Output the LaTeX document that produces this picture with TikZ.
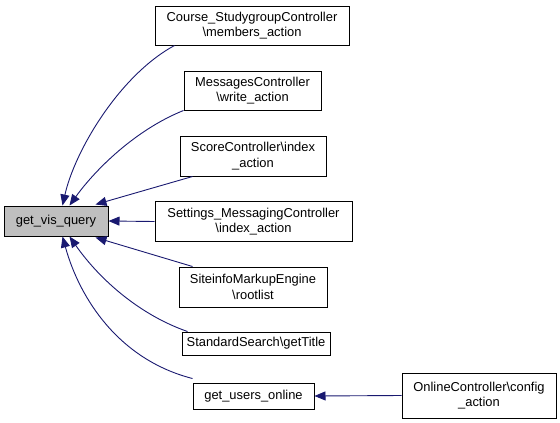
\documentclass[tikz,border=0pt]{standalone}
\usepackage{fontspec}
\setmainfont{Liberation Sans}
\usetikzlibrary{arrows.meta}
\definecolor{edgec}{HTML}{191970}
\definecolor{boxfill}{HTML}{BFBFBF}
\tikzset{
  box/.style={draw=black, line width=1pt, fill=white, inner sep=0pt, align=center,
    font=\fontsize{12.9}{15.5}\selectfont},
  hilite/.style={box, fill=boxfill},
  edge/.style={draw=edgec, line width=0.9pt, -{Triangle[length=11pt,width=9pt]}},
}
\begin{document}
\begin{tikzpicture}[x=1pt,y=-1pt]
\useasboundingbox (0,0) rectangle (560,423);
\node[hilite, minimum width=104, minimum height=30] (gvq) at (56,221) {get\_vis\_query};
\node[box, minimum width=194, minimum height=39] (course) at (252,25.5) {Course\_StudygroupController\\\textbackslash members\_action};
\node[box, minimum width=137, minimum height=39] (msg) at (252.5,90.5) {MessagesController\\\textbackslash write\_action};
\node[box, minimum width=146, minimum height=40] (score) at (253,156) {ScoreController\textbackslash index\\\_action};
\node[box, minimum width=197, minimum height=40] (settings) at (253.5,221.5) {Settings\_MessagingController\\\textbackslash index\_action};
\node[box, minimum width=148, minimum height=40] (site) at (253,287) {SiteinfoMarkupEngine\\\textbackslash rootlist};
\node[box, minimum width=148, minimum height=23] (std) at (256,343.5) {StandardSearch\textbackslash getTitle};
\node[box, minimum width=121, minimum height=26] (guo) at (253.5,396) {get\_users\_online};
\node[box, minimum width=154, minimum height=45] (online) at (479,395.5) {OnlineController\textbackslash config\\\_action};

\draw[edge] ([xshift=20]course.south west) .. controls (120,75) and (75,150) .. ([xshift=59]gvq.north west);
\draw[edge] (msg.south west) .. controls (135,130) and (95,170) .. ([xshift=66]gvq.north west);
\draw[edge] ([xshift=13]score.south west) -- ([xshift=92,yshift=1]gvq.north west);
\draw[edge] (settings.west) -- (gvq.east);
\draw[edge] ([xshift=14]site.north west) -- ([xshift=92,yshift=-1]gvq.south west);
\draw[edge] ([xshift=6]std.north west) .. controls (140,315) and (100,280) .. ([xshift=66]gvq.south west);
\draw[edge] ([yshift=4]guo.north west) .. controls (120,360) and (80,300) .. ([xshift=59]gvq.south west);
\draw[edge] (online.west) -- (guo.east);
\end{tikzpicture}
\end{document}
